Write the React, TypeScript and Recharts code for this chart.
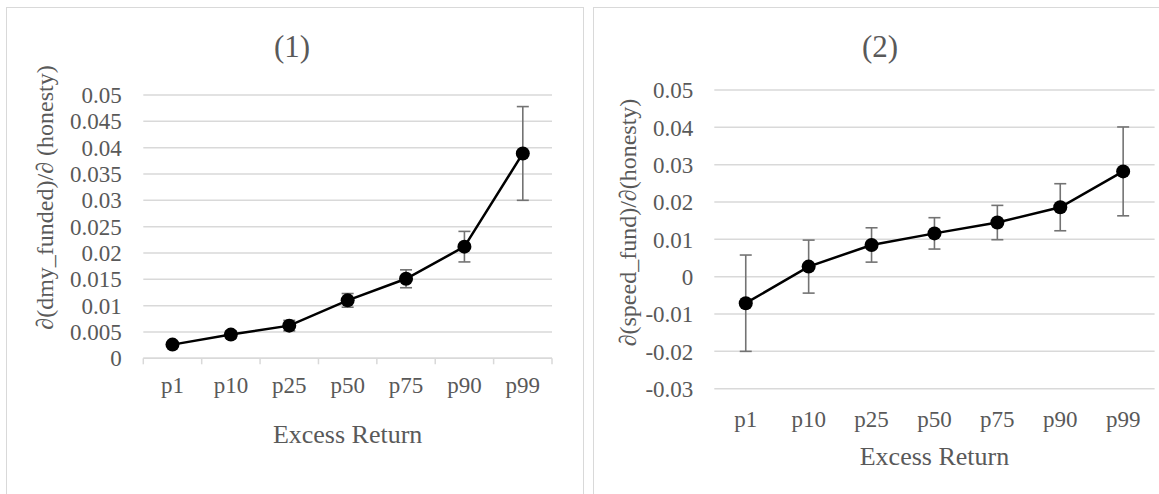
import React from 'react';
import { LineChart, Line, XAxis, YAxis, CartesianGrid, ErrorBar } from 'recharts';

const categories = ['p1', 'p10', 'p25', 'p50', 'p75', 'p90', 'p99'];
const fundedValues = [0.0026, 0.0045, 0.0062, 0.011, 0.0151, 0.0212, 0.0389];
const fundedErrors = [0.0004, 0.0007, 0.001, 0.0013, 0.0017, 0.0029, 0.0089];
const speedValues = [-0.0071, 0.0027, 0.0085, 0.0116, 0.0145, 0.0186, 0.0282];
const speedErrors = [0.0129, 0.0071, 0.0046, 0.0042, 0.0046, 0.0063, 0.0119];
const fundedTicks = [0, 0.005, 0.01, 0.015, 0.02, 0.025, 0.03, 0.035, 0.04, 0.045, 0.05];
const speedTicks = [-0.03, -0.02, -0.01, 0, 0.01, 0.02, 0.03, 0.04, 0.05];

const fundedData = categories.map((c, i) => ({ cat: c, v: fundedValues[i], e: fundedErrors[i] }));
const speedData = categories.map((c, i) => ({ cat: c, v: speedValues[i], e: speedErrors[i] }));

const FONT = "'Liberation Serif', 'Times New Roman', serif";
const TXT = '#595959';
const GRID = '#d9d9d9';

const fmt = (v: number) => String(Number(v.toFixed(4)));

const makeTick = (bandwidth: number, drawBoundaries: boolean, textDy: number) => (props: any) => {
  const { x, y, payload, index } = props;
  return (
    <g>
      {drawBoundaries && (
        <line x1={x - bandwidth / 2} x2={x - bandwidth / 2} y1={y - 6} y2={y} stroke={GRID} strokeWidth={1.5} />
      )}
      {drawBoundaries && index === categories.length - 1 && (
        <line x1={x + bandwidth / 2} x2={x + bandwidth / 2} y1={y - 6} y2={y} stroke={GRID} strokeWidth={1.5} />
      )}
      <text x={x} y={y + textDy} textAnchor="middle" fill={TXT} fontSize={23} fontFamily={FONT}>
        {payload.value}
      </text>
    </g>
  );
};

const xTitle = (dy: number) => (props: any) => {
  const vb = props.viewBox;
  return (
    <text x={vb.x + vb.width / 2} y={vb.y + dy} textAnchor="middle" fill={TXT} fontSize={26} fontFamily={FONT}>
      Excess Return
    </text>
  );
};

const yTitle = (text: string, cx: number, cy: number) => () => (
  <text
    x={cx}
    y={cy}
    transform={`rotate(-90, ${cx}, ${cy})`}
    textAnchor="middle"
    dominantBaseline="central"
    fill={TXT}
    fontSize={24}
    fontFamily={FONT}
  >
    {text}
  </text>
);

const titleStyle = (cx: number): React.CSSProperties => ({
  position: 'absolute',
  left: cx - 60,
  width: 120,
  top: 31,
  textAlign: 'center',
  fontFamily: FONT,
  fontSize: 31,
  lineHeight: '31px',
  color: TXT,
});

export default function App() {
  // left plot: x 143.3..552, y 95..358.3
  const leftW = 590;
  const leftBand = (552 - 143.3) / 7;
  // right plot: x 714.3..1154.6 (page), y 90..388.7
  const rightLeft = 590;
  const rightW = 569;
  const rightBand = (1154.6 - 714.3) / 7;

  return (
    <div style={{ position: 'fixed', left: 0, top: 0, width: 1159, height: 494, overflow: 'hidden', background: '#fff' }}>
      <div
        style={{
          position: 'absolute',
          left: 6.3,
          top: 6.5,
          width: 577.5,
          height: 520,
          border: `1.6px solid ${GRID}`,
          boxSizing: 'border-box',
        }}
      />
      <div
        style={{
          position: 'absolute',
          left: 592.5,
          top: 6.5,
          width: 600,
          height: 520,
          border: `1.6px solid ${GRID}`,
          boxSizing: 'border-box',
        }}
      />
      <div style={titleStyle(292)}>(1)</div>
      <div style={titleStyle(880)}>(2)</div>

      <div style={{ position: 'absolute', left: 0, top: 0 }}>
        <LineChart
          width={leftW}
          height={494}
          data={fundedData}
          margin={{ top: 95, right: leftW - 552, bottom: 494 - 358.3 - 40, left: 143.3 - 70 }}
        >
          <CartesianGrid vertical={false} stroke={GRID} strokeWidth={1.5} />
          <XAxis
            dataKey="cat"
            scale="band"
            height={40}
            axisLine={{ stroke: GRID, strokeWidth: 1.5 }}
            tickLine={false}
            tickSize={6}
            tickMargin={0}
            interval={0}
            tick={makeTick(leftBand, true, 28.7)}
            label={xTitle(84.7)}
          />
          <YAxis
            width={70}
            domain={[0, 0.05]}
            ticks={fundedTicks}
            interval={0}
            axisLine={false}
            tickLine={false}
            tickSize={6}
            tickMargin={15.6}
            tickFormatter={fmt}
            tick={{ fill: TXT, fontSize: 23, fontFamily: FONT }}
            label={yTitle('∂(dmy_funded)/∂ (honesty)', 45, 197.5)}
          />
          <Line
            dataKey="v"
            stroke="#000"
            strokeWidth={2.5}
            dot={{ r: 7, fill: '#000', stroke: '#000', strokeWidth: 0 }}
            isAnimationActive={false}
          >
            <ErrorBar dataKey="e" direction="y" width={6} stroke="#737373" strokeWidth={1.6} />
          </Line>
        </LineChart>
      </div>

      <div style={{ position: 'absolute', left: rightLeft, top: 0 }}>
        <LineChart
          width={rightW}
          height={494}
          data={speedData}
          margin={{ top: 90, right: 1159 - 1154.6, bottom: 494 - 388.7 - 40, left: 714.3 - rightLeft - 70 }}
        >
          <CartesianGrid vertical={false} stroke={GRID} strokeWidth={1.5} />
          <XAxis
            dataKey="cat"
            scale="band"
            height={40}
            axisLine={false}
            tickLine={false}
            tickSize={6}
            tickMargin={0}
            interval={0}
            tick={makeTick(rightBand, false, 31.8)}
            label={xTitle(76.3)}
          />
          <YAxis
            width={70}
            domain={[-0.03, 0.05]}
            ticks={speedTicks}
            interval={0}
            axisLine={false}
            tickLine={false}
            tickSize={6}
            tickMargin={15}
            tickFormatter={fmt}
            tick={{ fill: TXT, fontSize: 23, fontFamily: FONT }}
            label={yTitle('∂(speed_fund)/∂(honesty)', 628 - rightLeft, 222.5)}
          />
          <Line
            dataKey="v"
            stroke="#000"
            strokeWidth={2.5}
            dot={{ r: 7, fill: '#000', stroke: '#000', strokeWidth: 0 }}
            isAnimationActive={false}
          >
            <ErrorBar dataKey="e" direction="y" width={6} stroke="#737373" strokeWidth={1.6} />
          </Line>
        </LineChart>
      </div>
    </div>
  );
}
